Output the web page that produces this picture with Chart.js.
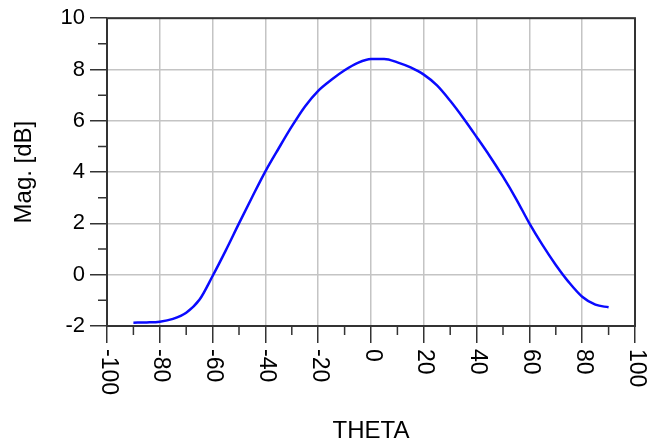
<!DOCTYPE html>
<html>
<head>
<meta charset="utf-8">
<title>Mag. [dB] vs THETA</title>
<script src="https://cdn.jsdelivr.net/npm/chart.js@4/dist/chart.umd.min.js"></script>
<style>
    body { margin: 0; background: #fff; }
    #chart { display: block; }
</style>
</head>
<body>
<canvas id="chart" width="660" height="443"></canvas>
<script>
// данные (шаг 5 градусов)
const theta = [-90, -85, -80, -75, -70, -65, -60, -55, -50, -45, -40, -35, -30, -25, -20, -15, -10, -5,
    0, 5, 10, 15, 20, 25, 30, 35, 40, 45, 50, 55, 60, 65, 70, 75, 80, 85, 90];
const magnitude = [-1.87, -1.86, -1.83, -1.72, -1.48, -0.98, -0.05, 0.95, 2.0, 3.03, 4.03, 4.92, 5.78, 6.56, 7.17, 7.6, 7.97, 8.26,
    8.41, 8.41, 8.28, 8.08, 7.8, 7.38, 6.78, 6.1, 5.37, 4.62, 3.82, 2.95, 2.0, 1.15, 0.38, -0.3, -0.86, -1.17, -1.27];

// подписи осей
const thetaTicks = [-100, -80, -60, -40, -20, 0, 20, 40, 60, 80, 100];
const magTicks = [-2, 0, 2, 4, 6, 8, 10];

const axisColor = '#333';
const gridColor = '#c4c4c4';

// середины между основными делениями - короткие засечки
function minorValues(ticks) {
    const res = [];
    for (let i = 0; i < ticks.length - 1; i++) {
        res.push((ticks[i].value + ticks[i + 1].value) / 2);
    }
    return res;
}

// рамка, мелкие засечки и повернутые по часовой подписи оси X
const framePlugin = {
    id: 'frame',
    afterDraw(chart) {
        const {ctx, chartArea: {left, right, top, bottom}, scales: {x, y}} = chart;
        ctx.save();
        ctx.strokeStyle = axisColor;
        ctx.lineWidth = 1.5;
        ctx.beginPath();
        minorValues(x.ticks).forEach((v) => {
            const px = x.getPixelForValue(v);
            ctx.moveTo(px, bottom);
            ctx.lineTo(px, bottom + 9);
        });
        minorValues(y.ticks).forEach((v) => {
            const py = y.getPixelForValue(v);
            ctx.moveTo(left - 9, py);
            ctx.lineTo(left, py);
        });
        ctx.stroke();

        ctx.lineWidth = 2;
        ctx.strokeRect(left, top, right - left, bottom - top);

        ctx.fillStyle = '#000';
        ctx.font = '23px "Liberation Sans", Arial, sans-serif';
        ctx.textAlign = 'left';
        ctx.textBaseline = 'alphabetic';
        x.ticks.forEach((t) => {
            const px = x.getPixelForValue(t.value);
            ctx.save();
            ctx.translate(px - 5.5, bottom + 23);
            ctx.rotate(Math.PI / 2);
            ctx.fillText(t.label, 0, 0);
            ctx.restore();
        });
        ctx.restore();
    }
};

const points = theta.map((t, i) => ({x: t, y: magnitude[i]}));

new Chart(document.getElementById('chart'), {
    type: 'line',
    data: {
        datasets: [{
            data: points,
            borderColor: '#0a0aff',
            borderWidth: 2.5,
            pointRadius: 0,
            fill: false,
            cubicInterpolationMode: 'monotone',
        }],
    },
    options: {
        responsive: false,
        animation: false,
        layout: {
            padding: {top: 18, right: 25, left: 0, bottom: 0},
        },
        plugins: {
            legend: {display: false},
            tooltip: {enabled: false},
        },
        scales: {
            x: {
                type: 'linear',
                min: -100,
                max: 100,
                afterBuildTicks: (scale) => {
                    scale.ticks = thetaTicks.map((v) => ({value: v}));
                },
                afterFit: (scale) => {
                    scale.height = 117;
                },
                ticks: {display: false},
                grid: {
                    color: gridColor,
                    lineWidth: 1.5,
                    tickColor: axisColor,
                    tickWidth: 1.5,
                    tickLength: 17,
                },
                border: {display: false},
                title: {
                    display: true,
                    text: 'THETA',
                    color: '#000',
                    font: {family: '"Liberation Sans", Arial, sans-serif', size: 24, lineHeight: 1},
                    padding: {top: 0, bottom: 0},
                },
            },
            y: {
                type: 'linear',
                min: -2,
                max: 10,
                afterBuildTicks: (scale) => {
                    scale.ticks = magTicks.map((v) => ({value: v}));
                },
                afterFit: (scale) => {
                    scale.width = 107;
                },
                ticks: {
                    color: '#000',
                    padding: 5,
                    font: {family: '"Liberation Sans", Arial, sans-serif', size: 22},
                },
                grid: {
                    color: gridColor,
                    lineWidth: 1.5,
                    tickColor: axisColor,
                    tickWidth: 1.5,
                    tickLength: 17,
                },
                border: {display: false},
                title: {
                    display: true,
                    text: 'Mag. [dB]',
                    color: '#000',
                    font: {family: '"Liberation Sans", Arial, sans-serif', size: 24, lineHeight: 1},
                    padding: {top: 12, bottom: 0},
                },
            },
        },
    },
    plugins: [framePlugin],
});
</script>
</body>
</html>
